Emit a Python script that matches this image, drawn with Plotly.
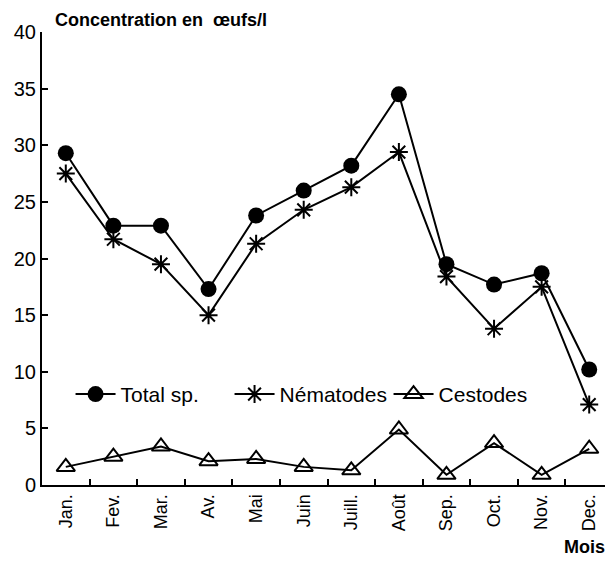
import plotly.graph_objects as go

# Data
months = ['Jan.', 'Fev.', 'Mar.', 'Av.', 'Mai', 'Juin', 'Juill.', 'Août',
          'Sep.', 'Oct.', 'Nov.', 'Dec.']
total_sp = [29.3, 22.9, 22.9, 17.3, 23.8, 26.0, 28.2, 34.5, 19.5, 17.7, 18.7, 10.2]
nematodes = [27.5, 21.7, 19.5, 15.0, 21.3, 24.3, 26.3, 29.4, 18.4, 13.8, 17.5, 7.1]
cestodes = [1.6, 2.5, 3.4, 2.1, 2.3, 1.6, 1.3, 4.9, 0.9, 3.7, 0.9, 3.2]

FONT = 'Liberation Sans, Arial'
BLACK = '#000000'

series = [
    ('Total sp.', total_sp, dict(symbol='circle', size=16, color=BLACK)),
    ('Nématodes', nematodes, dict(symbol='asterisk-open', size=15, color=BLACK,
                                   line=dict(width=2, color=BLACK))),
    ('Cestodes', cestodes, dict(symbol='triangle-up-open', size=16, color=BLACK,
                                 line=dict(width=2, color=BLACK))),
]

fig = go.Figure()
for name, values, marker in series:
    fig.add_trace(go.Scatter(
        x=months, y=values, name=name, mode='lines+markers',
        line=dict(color=BLACK, width=2), marker=marker, cliponaxis=False))

# the page body adds an 8px margin, so the figure is sized to fit in what is left
fig.update_layout(
    width=605, height=555,
    margin=dict(l=34, r=0, t=24, b=78),
    paper_bgcolor='white', plot_bgcolor='white',
    font=dict(family=FONT, size=18, color=BLACK),
    showlegend=True,
    legend=dict(orientation='h', x=0.05, y=0.2, xanchor='left', yanchor='middle',
                bgcolor='rgba(0,0,0,0)', font=dict(size=21), itemwidth=40,
                entrywidth=104, entrywidthmode='pixels', tracegroupgap=0),
    xaxis=dict(type='category', range=[-0.5, 11.5], showline=True, linecolor=BLACK,
               linewidth=2, ticks='inside', ticklen=6, tickwidth=2, tickcolor=BLACK,
               tickson='boundaries', tickangle=-90, showgrid=False, zeroline=False,
               tickfont=dict(size=18), automargin=False),
    yaxis=dict(range=[0, 40], dtick=5, showline=True, linecolor=BLACK, linewidth=2,
               ticks='inside', ticklen=6, tickwidth=2, tickcolor=BLACK,
               showgrid=False, zeroline=False, tickfont=dict(size=20),
               automargin=False),
    annotations=[
        dict(text='<b>Concentration en  œufs/l</b>', xref='paper', yref='paper',
             x=0.02, y=1.0, xanchor='left', yanchor='bottom', showarrow=False,
             font=dict(size=18)),
        dict(text='<b>Mois</b>', xref='paper', yref='paper', x=0.99, y=-0.11,
             xanchor='right', yanchor='top', showarrow=False, font=dict(size=18)),
    ],
)

fig.write_html('out.html')
